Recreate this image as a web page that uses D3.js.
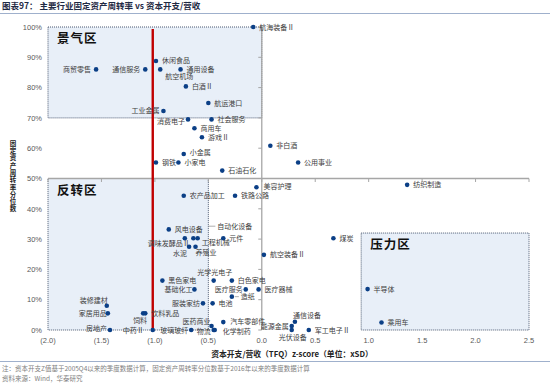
<!DOCTYPE html>
<html>
<head>
<meta charset="utf-8">
<script src="https://cdn.jsdelivr.net/npm/d3@7"></script>
<style>
  body { margin: 0; background: #fff; }
  svg { display: block; font-family: "Noto Sans CJK SC", "Liberation Sans", sans-serif; }
</style>
</head>
<body>
<svg id="chart" width="550" height="384"></svg>
<script>
// --- data ---
var industries = [
  "航海装备Ⅱ", "商贸零售", "通信服务", "休闲食品", "航空机场", "通用设备", "白酒Ⅱ", "航运港口",
  "工业金属", "消费电子", "社会服务", "商用车", "游戏Ⅱ", "非白酒", "小金属", "钢铁", "小家电",
  "石油石化", "公用事业", "美容护理", "农产品加工", "铁路公路", "纺织制造", "风电设备",
  "调味发酵品Ⅱ", "自动化设备", "工程机械", "元件", "水泥", "养殖业", "航空装备Ⅱ", "煤炭",
  "半导体", "乘用车", "黑色家电", "光学光电子", "白色家电", "基础化工", "医疗服务", "医疗器械",
  "造纸", "服装家纺", "电池", "饲料", "饮料乳品", "装修建材", "家居用品", "房地产", "中药Ⅱ",
  "玻璃玻纤", "医药商业", "物流", "化学制药", "汽车零部件", "通信设备", "能源金属", "光伏设备",
  "军工电子Ⅱ"
];
// capex / revenue z-score (xSD)
var capexZ = [
  -0.08, -1.55, -1.09, -0.99, -0.95, -0.76, -0.71, -0.50,
  -0.92, -0.69, -0.47, -0.63, -0.56, 0.08, -0.73, -0.99, -0.78,
  -0.37, 0.34, -0.05, -0.73, -0.25, 1.36, -0.87,
  -0.72, -0.64, -0.60, -0.36, -0.68, -0.62, 0.02, 0.67,
  0.99, 1.12, -0.93, -0.45, -0.28, -0.63, -0.15, -0.03,
  -0.28, -0.55, -0.46, -1.11, -1.09, -1.45, -1.44, -1.42, -1.02,
  -0.66, -0.47, -0.45, -0.44, -0.36, 0.31, 0.28, 0.28,
  0.44
];
// fixed asset turnover percentile
var turnoverPct = [
  1.000, 0.860, 0.860, 0.888, 0.860, 0.860, 0.804, 0.749,
  0.723, 0.695, 0.695, 0.666, 0.636, 0.608, 0.581, 0.553, 0.553,
  0.526, 0.553, 0.471, 0.443, 0.443, 0.479, 0.332,
  0.303, 0.303, 0.303, 0.303, 0.275, 0.275, 0.248, 0.303,
  0.135, 0.025, 0.163, 0.163, 0.163, 0.134, 0.134, 0.134,
  0.110, 0.088, 0.088, 0.055, 0.055, 0.080, 0.055, 0.000, 0.000,
  0.000, 0.013, 0.000, 0.000, 0.026, 0.027, 0.013, 0.000,
  0.000
];
var xTicks = [-2, -1.5, -1, -0.5, 0, 0.5, 1, 1.5, 2, 2.5];
var yTicks = [0, 0.1, 0.2, 0.3, 0.4, 0.5, 0.6, 0.7, 0.8, 0.9, 1.0];
var capexThreshold = -1.02;   // red line

// zones: [x0, x1, y0, y1] in data units
var zoneNames = ["景气区", "反转区", "压力区"];
var zoneX = [[-2, 0], [-2, -0.5], [0.93, 2.5]];
var zoneY = [[0.7, 1.0], [0, 0.5], [0, 0.32]];

// --- scales ---
var svg = d3.select("#chart");
var x = d3.scaleLinear().domain([-2, 2.5]).range([48, 529]);
var y = d3.scaleLinear().domain([0, 1]).range([330, 27]);

function fmtX(v) {
  var s = Math.abs(v).toFixed(1);
  return v < 0 ? "(" + s + ")" : s;
}

// title
svg.append("text").attr("x", 2).attr("y", 9)
  .attr("font-size", 8.5).attr("font-weight", "bold").attr("fill", "#1f2a44")
  .text("图表97：  主要行业固定资产周转率  vs  资本开支/营收");
svg.append("line").attr("x1", 0).attr("x2", 550).attr("y1", 13.5).attr("y2", 13.5)
  .attr("stroke", "#9fb0cc").attr("stroke-width", 1);

// zones
zoneNames.forEach(function(name, i) {
  svg.append("rect")
    .attr("x", x(zoneX[i][0])).attr("y", y(zoneY[i][1]))
    .attr("width", x(zoneX[i][1]) - x(zoneX[i][0]))
    .attr("height", y(zoneY[i][0]) - y(zoneY[i][1]))
    .attr("fill", "#e8eff8")
    .attr("stroke", "#4a5870").attr("stroke-width", 1)
    .attr("stroke-dasharray", "1,1");
  svg.append("text")
    .attr("x", x(zoneX[i][0]) + 9).attr("y", y(zoneY[i][1]) + 16)
    .attr("font-size", 12.5).attr("font-weight", "bold").attr("fill", "#111")
    .attr("letter-spacing", 1)
    .text(name);
});

// crossing axes (x axis at 50%, y axis at 0)
var axisColor = "#a6a6a6";
svg.append("line").attr("x1", x(-2)).attr("x2", x(2.5)).attr("y1", y(0.5)).attr("y2", y(0.5))
  .attr("stroke", axisColor).attr("stroke-width", 1.3);
svg.selectAll(".xt").data(xTicks).enter().append("line")
  .attr("x1", d => x(d)).attr("x2", d => x(d))
  .attr("y1", y(0.5)).attr("y2", y(0.5) + 3.5)
  .attr("stroke", axisColor).attr("stroke-width", 1);
svg.append("line").attr("x1", x(0)).attr("x2", x(0)).attr("y1", y(1)).attr("y2", y(0))
  .attr("stroke", axisColor).attr("stroke-width", 1.3);
svg.selectAll(".yt").data(yTicks).enter().append("line")
  .attr("x1", x(0) - 3.5).attr("x2", x(0))
  .attr("y1", d => y(d)).attr("y2", d => y(d))
  .attr("stroke", axisColor).attr("stroke-width", 1);

// tick labels (at chart edges)
svg.selectAll(".xl").data(xTicks).enter().append("text")
  .attr("x", d => x(d)).attr("y", 343)
  .attr("text-anchor", "middle").attr("font-size", 7.5).attr("fill", "#595959")
  .attr("font-family", "Liberation Sans, Arial, sans-serif")
  .text(fmtX);
svg.selectAll(".yl").data(yTicks).enter().append("text")
  .attr("x", 42).attr("y", d => y(d) + 2.7)
  .attr("text-anchor", "end").attr("font-size", 7.5).attr("fill", "#595959")
  .attr("font-family", "Liberation Sans, Arial, sans-serif")
  .text(d => Math.round(d * 100) + "%");

// axis titles
svg.append("text").attr("x", 292).attr("y", 357)
  .attr("text-anchor", "middle").attr("font-size", 7.8).attr("font-weight", "bold").attr("fill", "#222")
  .text("资本开支/营收（TFQ）z-score（单位：xSD）");
svg.append("text")
  .attr("x", 13).attr("y", 140)
  .attr("font-size", 6.5).attr("font-weight", "bold").attr("fill", "#222")
  .style("writing-mode", "vertical-rl")
  .attr("letter-spacing", 0.8)
  .text("固定资产周转率分位数");

// red threshold line
svg.append("line").attr("x1", x(capexThreshold)).attr("x2", x(capexThreshold))
  .attr("y1", 29).attr("y2", y(0))
  .attr("stroke", "#c00000").attr("stroke-width", 2.4);

// label placement: [dx, dy(baseline), anchor]
var LABEL_OFFSET = {
  "商贸零售": [-5, 2.5, "end"], "通信服务": [-5, 2.5, "end"], "工业金属": [-4, 2.5, "end"],
  "消费电子": [-3, 4.5, "end"], "航空机场": [5, 10, "start"], "调味发酵品Ⅱ": [5, 7.5, "end"],
  "自动化设备": [24, -9.5, "start"], "工程机械": [4, 7, "start"], "水泥": [-2, 9, "end"],
  "养殖业": [0, 8, "start"], "光学光电子": [1, -5.5, "middle"], "基础化工": [-2, 2.5, "end"],
  "医疗服务": [-3, 2.5, "end"], "服装家纺": [-3, 2.5, "end"], "饲料": [4, 9.5, "end"],
  "装修建材": [1, -2.5, "end"], "家居用品": [-1, 2.5, "end"], "房地产": [-3, 1, "end"],
  "中药Ⅱ": [-9, 3, "end"], "玻璃玻纤": [-3, 3, "end"], "医药商业": [-1, -2.5, "end"],
  "物流": [-3, 3.5, "end"], "化学制药": [8, 4, "start"], "通信设备": [-2, -3.5, "start"],
  "能源金属": [-3, 2.5, "end"], "光伏设备": [1, 10, "middle"], "造纸": [9, 2.5, "start"],
  "美容护理": [7, 2, "start"], "汽车零部件": [7, 1.5, "start"], "小金属": [6, 1.5, "start"]
};

var points = industries.map(function(name, i) {
  return { name: name, cx: x(capexZ[i]), cy: y(turnoverPct[i]) };
});

// leader lines
[["自动化设备", 22, -12], ["造纸", 7, 0]].forEach(function(l) {
  var p = points.find(d => d.name === l[0]);
  svg.append("line")
    .attr("x1", p.cx + (l[0] === "造纸" ? 3 : 15)).attr("y1", p.cy + (l[0] === "造纸" ? 0 : -12))
    .attr("x2", p.cx + l[1]).attr("y2", p.cy + l[2])
    .attr("stroke", "#777").attr("stroke-width", 0.6);
});

svg.selectAll(".lab").data(points).enter().append("text")
  .attr("x", d => d.cx + (LABEL_OFFSET[d.name] ? LABEL_OFFSET[d.name][0] : 6))
  .attr("y", d => d.cy + (LABEL_OFFSET[d.name] ? LABEL_OFFSET[d.name][1] : 2.5))
  .attr("text-anchor", d => LABEL_OFFSET[d.name] ? LABEL_OFFSET[d.name][2] : "start")
  .attr("font-size", 7).attr("fill", "#404040")
  .text(d => d.name);

svg.selectAll(".dot").data(points).enter().append("circle")
  .attr("cx", d => d.cx).attr("cy", d => d.cy).attr("r", 2.3)
  .attr("fill", "#0b3f86");

// footer
svg.append("line").attr("x1", 0).attr("x2", 550).attr("y1", 361.5).attr("y2", 361.5)
  .attr("stroke", "#9fb0cc").attr("stroke-width", 1);
svg.append("text").attr("x", 2).attr("y", 370.5)
  .attr("font-size", 6.5).attr("fill", "#808080")
  .text("注：资本开支Z值基于2005Q4以来的季度数据计算，固定资产周转率分位数基于2016年以来的季度数据计算");
svg.append("text").attr("x", 2).attr("y", 381)
  .attr("font-size", 6.5).attr("fill", "#808080")
  .text("资料来源：Wind，华泰研究");
</script>
</body>
</html>
